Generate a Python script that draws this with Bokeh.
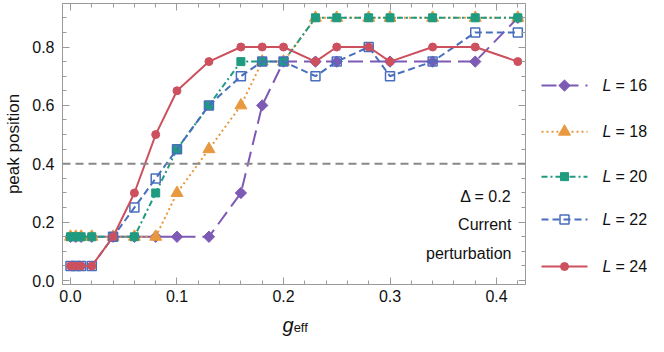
from bokeh.plotting import figure
from bokeh.layouts import column, row
from bokeh.models import (Range1d, LinearAxis, FixedTicker, PrintfTickFormatter,
                          Span, Label)
from bokeh.core.properties import value
from bokeh.embed import file_html
from bokeh.resources import INLINE

# ---------------- data ----------------
x_all = [0.0, 0.005, 0.01, 0.02, 0.04, 0.06, 0.08, 0.10, 0.13, 0.16,
         0.18, 0.20, 0.23, 0.25, 0.28, 0.30, 0.34, 0.38, 0.42]
x_L16 = [0.0, 0.005, 0.01, 0.02, 0.04, 0.06, 0.08, 0.10, 0.13, 0.16,
         0.18, 0.20, 0.23, 0.25, 0.30, 0.34, 0.38, 0.42]

y_L16 = [0.15, 0.15, 0.15, 0.15, 0.15, 0.15, 0.15, 0.15, 0.15, 0.30,
         0.60, 0.75, 0.75, 0.75, 0.75, 0.75, 0.75, 0.90]
y_L18 = [0.15, 0.15, 0.15, 0.15, 0.15, 0.15, 0.15, 0.30, 0.45, 0.60,
         0.75, 0.75, 0.90, 0.90, 0.90, 0.90, 0.90, 0.90, 0.90]
y_L20 = [0.15, 0.15, 0.15, 0.15, 0.15, 0.15, 0.30, 0.45, 0.60, 0.75,
         0.75, 0.75, 0.90, 0.90, 0.90, 0.90, 0.90, 0.90, 0.90]
y_L22 = [0.05, 0.05, 0.05, 0.05, 0.15, 0.25, 0.35, 0.45, 0.60, 0.70,
         0.75, 0.75, 0.70, 0.75, 0.80, 0.70, 0.75, 0.85, 0.85]
y_L24 = [0.05, 0.05, 0.05, 0.05, 0.15, 0.30, 0.50, 0.65, 0.75, 0.80,
         0.80, 0.80, 0.75, 0.80, 0.80, 0.75, 0.80, 0.80, 0.75]

L_values = ["16", "18", "20", "22", "24"]
threshold = 0.4

x_major = [0.0, 0.1, 0.2, 0.3, 0.4]
x_minor = [0.02, 0.04, 0.06, 0.08, 0.12, 0.14, 0.16, 0.18, 0.22, 0.24,
           0.26, 0.28, 0.32, 0.34, 0.36, 0.38, 0.42]
y_major = [0.0, 0.2, 0.4, 0.6, 0.8]
y_minor = [0.05, 0.1, 0.15, 0.25, 0.3, 0.35, 0.45, 0.5, 0.55, 0.65, 0.7,
           0.75, 0.85, 0.9]

# ---------------- styling ----------------
FONT = "Liberation Sans"
FRAME = "#9a9a9a"
TXT = "#111111"
colors = ["#7d5ab4", "#e8983e", "#1f9b80", "#486ebe", "#cd505f"]
dashes = ["15 7", "2 3", "6 3 2 3", "7 4", "solid"]
markers = [dict(marker="square", angle=0.7854, size=8),
           dict(marker="triangle", size=12),
           dict(marker="square", size=8),
           dict(marker="square", size=9, fill_alpha=0, line_width=1.5),
           dict(marker="circle", size=8)]

xr = Range1d(-0.0075, 0.4272)
yr = Range1d(-0.0135, 0.949)

MAIN_W, MAIN_H = 533, 309
B_LEFT, B_RIGHT, B_TOP, B_BOTTOM = 62, 8, 3, 25

p = figure(width=MAIN_W, height=MAIN_H, x_range=xr, y_range=yr,
           output_backend="svg", toolbar_location=None,
           min_border_left=B_LEFT, min_border_right=B_RIGHT,
           min_border_top=B_TOP, min_border_bottom=B_BOTTOM)
p.background_fill_color = "white"
p.border_fill_color = "white"
p.outline_line_color = FRAME
p.xgrid.visible = False
p.ygrid.visible = False


def style_axis(ax, ticks, minor, show_labels):
    ax.ticker = FixedTicker(ticks=ticks, minor_ticks=minor)
    ax.axis_line_color = FRAME
    ax.major_tick_line_color = FRAME
    ax.minor_tick_line_color = FRAME
    ax.major_tick_in = 7
    ax.major_tick_out = 0
    ax.minor_tick_in = 4
    ax.minor_tick_out = 0
    if show_labels:
        ax.formatter = PrintfTickFormatter(format="%.1f")
        ax.major_label_text_font = FONT
        ax.major_label_text_font_size = "16px"
        ax.major_label_text_color = TXT
    else:
        ax.major_label_text_color = None
        ax.major_label_text_alpha = 0
        ax.major_label_text_font_size = "1px"
        ax.major_label_standoff = 0


style_axis(p.xaxis[0], x_major, x_minor, True)
p.xaxis[0].major_label_standoff = 5
style_axis(p.yaxis[0], y_major, y_minor, True)
p.yaxis[0].major_label_standoff = 8
p.yaxis[0].axis_label = "peak position"
p.yaxis[0].axis_label_text_font = FONT
p.yaxis[0].axis_label_text_font_size = "17px"
p.yaxis[0].axis_label_text_font_style = "normal"
p.yaxis[0].axis_label_text_color = TXT
p.yaxis[0].axis_label_standoff = 6

top_ax = LinearAxis()
style_axis(top_ax, x_major, x_minor, False)
p.add_layout(top_ax, "above")
right_ax = LinearAxis()
style_axis(right_ax, y_major, y_minor, False)
p.add_layout(right_ax, "right")

# threshold line
p.add_layout(Span(location=threshold, dimension="width", line_color="#888888",
                  line_width=2, line_dash="8 5"))

# ---------------- series ----------------
series = [(x_L16, y_L16), (x_all, y_L18), (x_all, y_L20), (x_all, y_L22),
          (x_all, y_L24)]
for (xs, ys), c, d, m in zip(series, colors, dashes, markers):
    p.line(xs, ys, line_color=c, line_width=2, line_dash=d)
    kw = dict(m)
    kw.setdefault("fill_color", c)
    p.scatter(xs, ys, line_color=c, **kw)

# ---------------- annotations ----------------
for txt, yy in [("\u0394 = 0.2", 0.288), ("Current", 0.192),
                ("perturbation", 0.093)]:
    p.add_layout(Label(x=0.414, y=yy, text=txt, text_align="right",
                       text_baseline="middle", text_font=FONT,
                       text_font_size="16px", text_color=TXT))

# ---------------- legend panel ----------------
LW = 648 - MAIN_W
lg = figure(width=LW, height=MAIN_H, x_range=Range1d(0, LW), y_range=yr,
            output_backend="svg", toolbar_location=None,
            min_border_left=0, min_border_right=0,
            min_border_top=B_TOP, min_border_bottom=B_BOTTOM)
lg.axis.visible = False
lg.grid.visible = False
lg.outline_line_color = None
lg.background_fill_color = "white"
lg.border_fill_color = "white"

legend_rows = [0.668, 0.510, 0.356, 0.209, 0.048]
for i, (c, d, m) in enumerate(zip(colors, dashes, markers)):
    yy = legend_rows[i]
    lg.line([8, 54], [yy, yy], line_color=c, line_width=2, line_dash=d)
    kw = dict(m)
    kw.setdefault("fill_color", c)
    lg.scatter([31], [yy], line_color=c, **kw)
    lg.text([69], [yy], text=["L"], text_font=value(FONT),
            text_font_size="16px", text_font_style="italic",
            text_baseline="middle", text_color=TXT)
    lg.text([82], [yy], text=["= " + L_values[i]], text_font=value(FONT),
            text_font_size="16px", text_baseline="middle", text_color=TXT)

# ---------------- x-axis label panel ----------------
XH = 336 - MAIN_H
xl = figure(width=648, height=XH, x_range=xr, y_range=Range1d(0, XH),
            output_backend="svg", toolbar_location=None,
            min_border_left=B_LEFT, min_border_right=648 - MAIN_W + B_RIGHT,
            min_border_top=0, min_border_bottom=0)
xl.axis.visible = False
xl.grid.visible = False
xl.outline_line_color = None
xl.background_fill_color = "white"
xl.border_fill_color = "white"
xl.text([0.199], [12], text=["g"], text_font=value(FONT),
        text_font_size="20px", text_font_style="italic",
        text_baseline="alphabetic", text_color=TXT)
xl.text([0.2095], [9], text=["eff"], text_font=value(FONT),
        text_font_size="13px", text_baseline="alphabetic", text_color=TXT)

layout = column(row(p, lg, spacing=0), xl, spacing=0)
open("out.html", "w").write(file_html(layout, INLINE))
